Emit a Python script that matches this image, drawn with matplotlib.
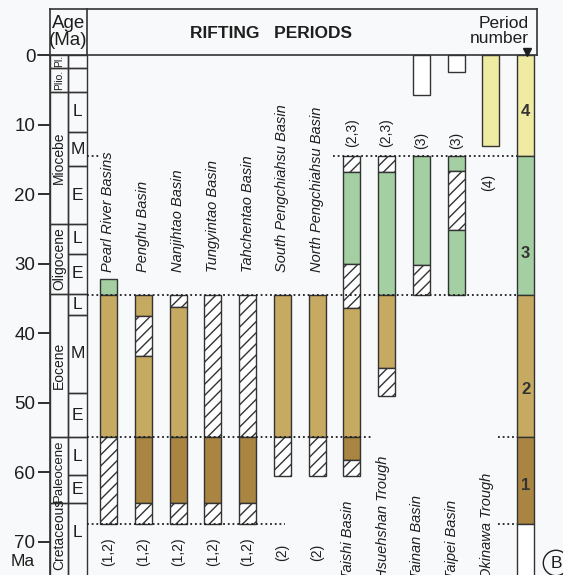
import numpy as np
import matplotlib.pyplot as plt

plt.rcParams['font.family'] = ['Liberation Sans Narrow', 'Liberation Sans', 'DejaVu Sans']

# ---- time scale (Ma) ----
age_ticks = [0, 10, 20, 30, 40, 50, 60, 70]

epochs = ['Pl.', 'Plio.', 'Miocebe', 'Oligocene', 'Eocene', 'Paleocene', 'Cretaceous']
epoch_top = [0, 1.8, 5.3, 24.3, 34.4, 55, 64.5]
epoch_base = [1.8, 5.3, 24.3, 34.4, 55, 64.5, 80]

subs = ['', '', 'L', 'M', 'E', 'L', 'E', 'L', 'M', 'E', 'L', 'E', 'L']
sub_top = [0, 1.8, 5.3, 11.1, 16, 24.3, 28.6, 34.4, 37.4, 48.6, 55, 60.5, 64.5]
sub_base = [1.8, 5.3, 11.1, 16, 24.3, 28.6, 34.4, 37.4, 48.6, 55, 60.5, 64.5, 80]

# ---- basins and their rifting records: (top Ma, base Ma, kind) ----
# kind: T light tan, D dark tan, G green, Y yellow, H hatched, W open
basins = ['Pearl River Basins', 'Penghu Basin', 'Nanjihtao Basin', 'Tungyintao Basin',
          'Tahchentao Basin', 'South Pengchiahsu Basin', 'North Pengchiahsu Basin',
          'Taishi Basin', 'Hsuehshan Trough', 'Tainan Basin', 'Taipei Basin', 'Okinawa Trough']
codes = ['(1,2)', '(1,2)', '(1,2)', '(1,2)', '(1,2)', '(2)', '(2)',
         '(2,3)', '(2,3)', '(3)', '(3)', '(4)']

pearl = [(32.2, 34.5, 'G'), (34.5, 55, 'T'), (55, 67.5, 'H')]
penghu = [(34.5, 37.5, 'T'), (37.5, 43.3, 'H'), (43.3, 55, 'T'), (55, 64.5, 'D'), (64.5, 67.5, 'H')]
nanjihtao = [(34.5, 36.2, 'H'), (36.2, 55, 'T'), (55, 64.5, 'D'), (64.5, 67.5, 'H')]
tungyintao = [(34.5, 55, 'H'), (55, 64.5, 'D'), (64.5, 67.5, 'H')]
tahchentao = [(34.5, 55, 'H'), (55, 64.5, 'D'), (64.5, 67.5, 'H')]
s_pengchiahsu = [(34.5, 55, 'T'), (55, 60.6, 'H')]
n_pengchiahsu = [(34.5, 55, 'T'), (55, 60.6, 'H')]
taishi = [(14.5, 16.8, 'H'), (16.8, 30.1, 'G'), (30.1, 36.4, 'H'), (36.4, 55, 'T'),
          (55, 58.3, 'D'), (58.3, 60.6, 'H')]
hsuehshan = [(14.5, 16.8, 'H'), (16.8, 34.5, 'G'), (34.5, 45.0, 'T'), (45.0, 49.0, 'H')]
tainan = [(0, 5.7, 'W'), (14.5, 30.2, 'G'), (30.2, 34.5, 'H')]
taipei = [(0, 2.5, 'W'), (14.5, 16.7, 'G'), (16.7, 25.2, 'H'), (25.2, 34.5, 'G')]
okinawa = [(0, 13.1, 'Y')]
records = [pearl, penghu, nanjihtao, tungyintao, tahchentao, s_pengchiahsu,
           n_pengchiahsu, taishi, hsuehshan, tainan, taipei, okinawa]

periods = ['4', '3', '2', '1']
period_top = [0, 14.5, 34.5, 55, 67.5]
period_base = [14.5, 34.5, 55, 67.5, 80]
period_kind = ['Y', 'G', 'T', 'D', 'W']
period_label_age = [8.2, 28.5, 48.2, 61.9]

colors = {'T': '#c7aa62', 'D': '#a98541', 'G': '#a3cfa3', 'Y': '#efeba3',
          'H': 'white', 'W': 'white'}
edge = '#333333'
ink = '#1e1e1e'

# ---- page geometry (pixels of the 563x575 picture) ----
W, H = 563, 575
x0px, dxpx = 108.5, 34.75          # first column centre, column spacing
y0px, dypx = 55.0, 6.95            # 0 Ma line, pixels per Ma

def px2x(p):
    return (p - x0px) / dxpx

def py2age(p):
    return (p - y0px) / dypx

fig = plt.figure(figsize=(W / 100, H / 100), dpi=100)
fig.patch.set_facecolor('#f8f9fa')
ax = fig.add_axes([50 / W, 0, (W - 50) / W, 1])
ax.set_facecolor('#f8f9fa')
ax.set_xlim(px2x(50), px2x(W))
ax.set_ylim(py2age(H), py2age(0))
for s in ax.spines.values():
    s.set_visible(False)
ax.set_xticks([])
ax.set_yticks(age_ticks)
ax.set_yticklabels([str(a) for a in age_ticks], fontsize=13.5)
ax.tick_params(axis='y', length=8.6, width=1.3, pad=2, color=ink, labelcolor=ink)
ax.text(px2x(35), py2age(561), 'Ma', fontsize=12.5, ha='right', va='center', color=ink)

bw = 17 / dxpx
hatch = '///'

# ---- age column ----
ex, ew = px2x(59), 18 / dxpx
sx, sw = px2x(77.5), 19 / dxpx
ax.bar([ex] * len(epochs), np.subtract(epoch_base, epoch_top), bottom=epoch_top, width=ew,
       fill=False, edgecolor=edge, linewidth=1.0, clip_on=False)
ax.bar([sx] * len(subs), np.subtract(sub_base, sub_top), bottom=sub_top, width=sw,
       fill=False, edgecolor=edge, linewidth=1.0, clip_on=False)
for name, t, b in zip(epochs, epoch_top, epoch_base):
    mid = (t + min(b, 73.5)) / 2
    fs = 7.5 if len(name) < 6 else (9.5 if name == 'Paleocene' else 10)
    ax.text(ex, mid, name, rotation=90, ha='center', va='center', fontsize=fs, color=ink)
for name, t, b in zip(subs, sub_top, sub_base):
    mid = (t + min(b, 73)) / 2
    ax.text(sx, mid, name, ha='center', va='center', fontsize=12.5, color=ink)

# ---- header ----
top_age = py2age(9)
ax.plot([px2x(50), px2x(537)], [top_age, top_age], color=edge, lw=1.2, clip_on=False)
ax.plot([px2x(38), px2x(537)], [0, 0], color=edge, lw=1.2, clip_on=False)
ax.plot([px2x(50), px2x(50)], [top_age, py2age(H)], color=edge, lw=1.2, clip_on=False)
ax.plot([px2x(87), px2x(87)], [top_age, 0], color=edge, lw=1.2)
ax.plot([px2x(537), px2x(537)], [top_age, 0], color=edge, lw=1.2)
ax.text(px2x(68.5), py2age(32), 'Age\n(Ma)', ha='center', va='center', fontsize=13.5,
        linespacing=1.0, color=ink)
ax.text(px2x(271), py2age(33), 'RIFTING   PERIODS', ha='center', va='center', fontsize=12.5,
        fontweight='bold', color=ink)
ax.text(px2x(529), py2age(31), 'Period\nnumber', ha='right', va='center', fontsize=12.5,
        linespacing=0.95, multialignment='right', color=ink)
ax.plot(px2x(527), py2age(51.5), marker='v', markersize=6, color=ink)

# ---- dotted correlation lines ----
dots = dict(color=ink, lw=1.3, linestyle=(0, (1, 1.6)))
ax.plot([px2x(87), px2x(100)], [period_base[0]] * 2, **dots)
ax.plot([px2x(333), px2x(517)], [period_base[0]] * 2, **dots)
ax.plot([px2x(87), px2x(517)], [period_base[1]] * 2, **dots)
ax.plot([px2x(87), px2x(372)], [period_base[2]] * 2, **dots)
ax.plot([px2x(498), px2x(517)], [period_base[2]] * 2, **dots)
ax.plot([px2x(87), px2x(285)], [period_base[3]] * 2, **dots)
ax.plot([px2x(498), px2x(517)], [period_base[3]] * 2, **dots)

# ---- basin bars ----
for i, rec in enumerate(records):
    for t, b, k in rec:
        ax.bar(i, b - t, bottom=t, width=bw, color=colors[k], edgecolor=edge, linewidth=1.0,
               hatch=hatch if k == 'H' else None)

# period column
pi = len(basins)
for t, b, k in zip(period_top, period_base, period_kind):
    ax.bar(pi, b - t, bottom=t, width=bw, color=colors[k], edgecolor=edge, linewidth=1.0)
for lab, a in zip(periods, period_label_age):
    ax.text(pi, a, lab, ha='center', va='center', fontsize=12, color='#333333',
            fontweight='bold')

# ---- basin names and period codes ----
ital = dict(rotation=90, fontstyle='italic', fontsize=10.5, color=ink,
            family=['Liberation Sans', 'DejaVu Sans'])
for i, name in enumerate(basins):
    if i < 7:
        ax.text(i, py2age(272), name, ha='center', va='bottom', **ital)
    else:
        ax.text(i - 4 / dxpx, py2age(579), name, ha='center', va='bottom', clip_on=False, **ital)

code_y = [552] * 7 + [133, 133, 140, 140, 182]
for i, (c, yp) in enumerate(zip(codes, code_y)):
    ax.text(i - (3 / dxpx if i == 11 else 0), py2age(yp), c, rotation=90, ha='center',
            va='center', fontsize=10, color=ink,
            family=['Liberation Sans', 'DejaVu Sans'])

ax.text(px2x(556), py2age(563), 'B', ha='center', va='center', fontsize=12.5, color=ink,
        family=['Liberation Sans', 'DejaVu Sans'],
        bbox=dict(boxstyle='circle,pad=0.3', fc='none', ec=ink, lw=1.0), clip_on=False)

fig.savefig('out.png', dpi=100, facecolor=fig.get_facecolor())
